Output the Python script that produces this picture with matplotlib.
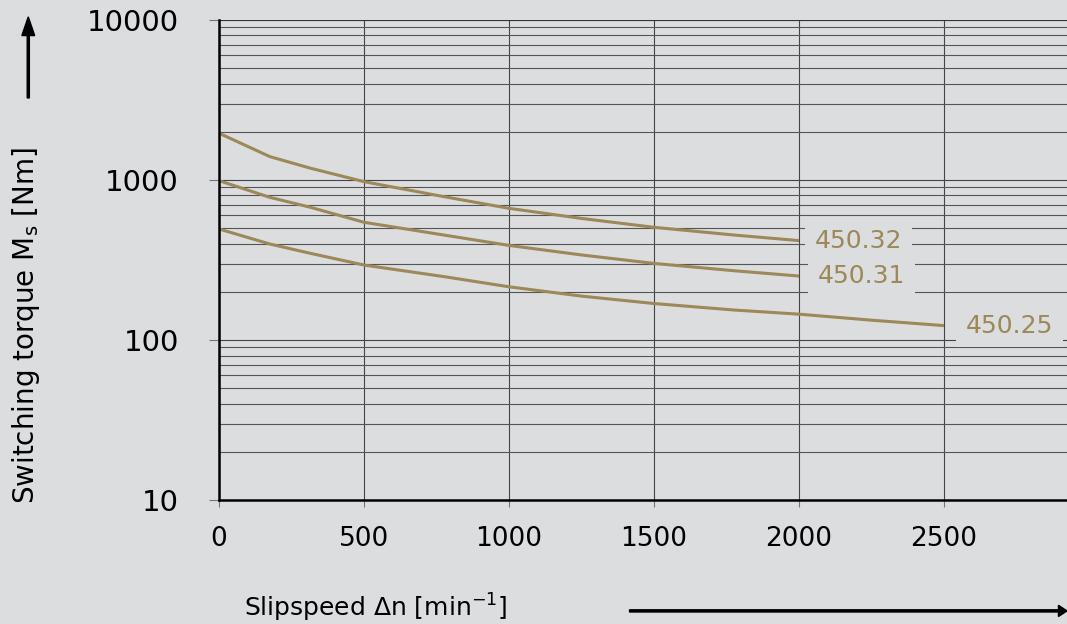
import matplotlib.pyplot as plt
from matplotlib.patches import FancyArrow
from matplotlib.ticker import LogLocator, FixedLocator, NullFormatter

# 背景色和线条颜色
bg = '#dcdddf'
curve_color = '#9c8858'

# 数据 (读取自原图)
speed = [0, 175, 315, 500, 775, 1000, 1250, 1500, 1775, 2000, 2250, 2500]
ms_45032 = [1960, 1400, 1185, 976, 787, 665, 575, 506, 453, 418]
ms_45031 = [990, 779, 675, 544, 453, 390, 340, 301, 271, 251]
ms_45025 = [494, 398, 348, 294, 249, 215, 188, 169, 154, 145, 133, 123]
names = ['450.32', '450.31', '450.25']

fig = plt.figure(figsize=(10.67, 6.24), dpi=100, facecolor=bg)
ax = fig.add_axes([0.2053, 0.1987, 0.7947, 0.7693], facecolor=bg)

ax.set_yscale('log')
ax.set_xlim(0, 2924)
ax.set_ylim(10, 10000)

# 网格
ax.set_xticks([0, 500, 1000, 1500, 2000, 2500])
ax.yaxis.set_major_locator(FixedLocator([10, 100, 1000, 10000]))
ax.yaxis.set_minor_locator(LogLocator(base=10, subs=range(2, 10)))
ax.yaxis.set_minor_formatter(NullFormatter())
ax.grid(which='major', color='#444444', lw=0.8)
ax.grid(which='minor', axis='y', color='#555555', lw=0.8)
ax.set_yticklabels(['10', '100', '1000', '10000'])

# 曲线
series = [ms_45032, ms_45031, ms_45025]
for vals in series:
    ax.plot(speed[:len(vals)], vals, color=curve_color, lw=2.2,
            solid_capstyle='butt', solid_joinstyle='round')

# 曲线标签 (带背景色遮住网格)
label_pos = [(2055, 418), (2065, 251), (2576, 123)]
for name, (lx, ly) in zip(names, label_pos):
    ax.text(lx, ly, name, fontsize=18, color=curve_color, va='center', ha='left',
            bbox=dict(facecolor=bg, edgecolor='none', pad=7))

for side in ['top', 'right']:
    ax.spines[side].set_visible(False)
ax.spines['left'].set_linewidth(1.8)
ax.spines['bottom'].set_linewidth(1.8)
ax.axhline(10000, color='#333333', lw=1.5)

ax.tick_params(axis='y', which='major', length=7, color='#777777', labelsize=21, pad=22)
ax.tick_params(axis='y', which='minor', length=0)
ax.tick_params(axis='x', length=5, color='#777777', labelsize=19, pad=14)

# 坐标轴标题和箭头
fig.text(0.024, 0.479, 'Switching torque M$_\\mathregular{s}$ [Nm]', rotation=90,
         fontsize=20, ha='center', va='center')
fig.text(0.229, 0.026, 'Slipspeed Δn [min$^\\mathregular{-1}$]', fontsize=18,
         ha='left', va='center')
fig.patches.append(FancyArrow(
    0.0265, 0.843, 0, 0.13, width=0.002, head_width=0.012, head_length=0.03,
    length_includes_head=True, color='black', transform=fig.transFigure))
fig.patches.append(FancyArrow(
    0.59, 0.021, 0.41, 0, width=0.0035, head_width=0.018, head_length=0.008,
    length_includes_head=True, color='black', transform=fig.transFigure))

fig.savefig('out.png', dpi=100, facecolor=bg)
